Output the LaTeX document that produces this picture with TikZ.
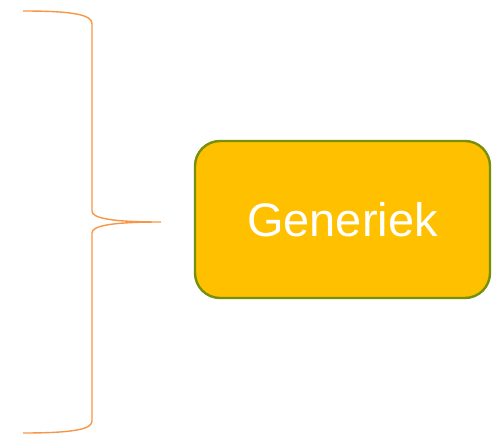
\documentclass[tikz,border=0pt]{standalone}
\usepackage{fontspec}
\setmainfont{Liberation Sans}
\definecolor{braceorange}{HTML}{F79646}
\definecolor{boxfill}{HTML}{FFC000}
\definecolor{boxline}{HTML}{77900A}
\tikzset{
  bracestyle/.style={draw=braceorange, line width=1.4pt},
  genbox/.style={draw=boxline, fill=boxfill, line width=2.4pt, rounded corners=25pt,
    minimum width=295pt, minimum height=157pt, inner sep=0pt,
    text=white, font=\fontsize{47}{56}\selectfont}
}
\begin{document}
\begin{tikzpicture}[x=1pt,y=-1pt]
\useasboundingbox (0,0) rectangle (500,441);
\node[genbox] (gen) at (342.5,219.5) {Generiek};
\coordinate (tip) at (161,222);
\draw[bracestyle] (23,11) .. controls (75,11) and (92,15) .. (92,24)
  -- (92,211) .. controls (92,218) and (110,222) .. (tip)
  .. controls (110,222) and (92,226) .. (92,233)
  -- (92,421) .. controls (92,429) and (75,433) .. (23,433);
\end{tikzpicture}
\end{document}
